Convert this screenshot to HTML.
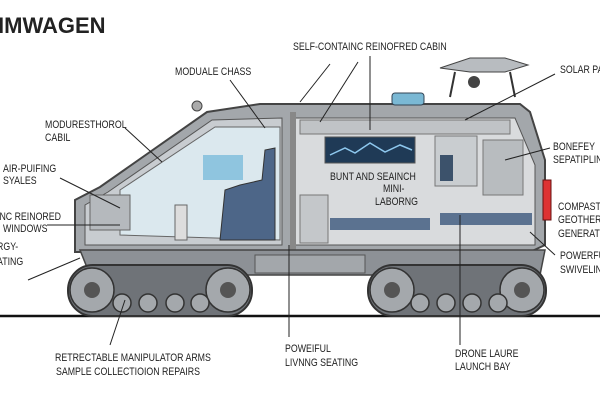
<!DOCTYPE html>
<html><head><meta charset="utf-8"><style>
html,body{margin:0;padding:0;background:#fff}
svg{display:block}
text{font-family:"Liberation Sans",sans-serif;fill:#222}
.l text{font-size:11px}
</style></head><body>
<svg width="600" height="400" viewBox="0 0 600 400">
<rect width="600" height="400" fill="#fff"/>
<text x="-2" y="33" font-size="22" font-weight="bold" fill="#111">IMWAGEN</text>
<line x1="0" y1="316" x2="600" y2="316" stroke="#111" stroke-width="2.5"/>
<path d="M75 250 L75 200 L100 187 L207 112 L260 104 L520 104 L530 112 L545 160 L545 245 L530 252 L75 252 Z" fill="#a3a7ab" stroke="#444" stroke-width="2"/>
<path d="M85 245 L85 205 L108 192 L212 120 L282 118 L282 245 Z" fill="#c8ccd0" stroke="#555"/>
<path d="M120 235 L120 190 L215 127 L280 127 L280 240 Z" fill="#dbe8ee" stroke="#666"/>
<path d="M295 118 L515 118 L535 165 L535 245 L295 245 Z" fill="#d9dbdd" stroke="#555"/>
<rect x="290" y="112" width="6" height="140" fill="#888"/>
<rect x="300" y="120" width="210" height="14" fill="#c0c3c6" stroke="#777"/>
<rect x="325" y="137" width="90" height="26" fill="#1f3a56" stroke="#555"/>
<path d="M330 155 L345 148 L355 153 L370 143 L385 152 L400 145 L412 150" stroke="#8ec8ee" fill="none" stroke-width="1.5"/>
<rect x="435" y="136" width="42" height="50" fill="#c9cdd0" stroke="#777"/>
<rect x="440" y="155" width="13" height="26" fill="#3c526b"/>
<rect x="483" y="140" width="40" height="55" fill="#b8bcbf" stroke="#777"/>
<rect x="330" y="218" width="100" height="12" fill="#5b7290"/>
<rect x="440" y="213" width="92" height="12" fill="#5b7290"/>
<rect x="300" y="195" width="28" height="48" fill="#c4c7ca" stroke="#777"/>
<rect x="203" y="155" width="40" height="25" fill="#6fb7d8" opacity=".7"/>
<rect x="90" y="195" width="40" height="35" fill="#b5b9bd" stroke="#666"/>
<path d="M220 240 L225 190 L240 185 L262 180 L265 150 L275 148 L275 240 Z" fill="#4d6688" stroke="#333"/>
<rect x="175" y="205" width="12" height="35" fill="#ddd" stroke="#666"/>
<rect x="392" y="93" width="32" height="12" rx="3" fill="#7ab8d4" stroke="#345"/>
<circle cx="197" cy="106" r="5" fill="#aaa" stroke="#444"/>
<path d="M440 68 L470 58 L505 58 L528 65 L505 72 L470 72 Z" fill="#b8bcc0" stroke="#444"/>
<path d="M455 72 L450 97 M510 72 L515 97" stroke="#333" stroke-width="2"/>
<circle cx="474" cy="82" r="6" fill="#444"/>
<rect x="543" y="180" width="8" height="40" fill="#d33" stroke="#611"/>
<path d="M80 250 L545 250 L540 275 L90 275 Z" fill="#8d9196" stroke="#444" stroke-width="1.5"/>
<rect x="255" y="255" width="110" height="18" fill="#a3a7ab" stroke="#555"/>
<rect x="68" y="265" width="184" height="51" rx="25" fill="#6f7378" stroke="#333" stroke-width="2"/>
<rect x="368" y="265" width="178" height="51" rx="25" fill="#6f7378" stroke="#333" stroke-width="2"/>
<g fill="#a4a8ac" stroke="#333" stroke-width="1.5">
<circle cx="92" cy="290" r="22"/><circle cx="228" cy="290" r="22"/>
<circle cx="392" cy="290" r="22"/><circle cx="522" cy="290" r="22"/>
<circle cx="122" cy="303" r="9"/><circle cx="148" cy="303" r="9"/><circle cx="175" cy="303" r="9"/><circle cx="200" cy="303" r="9"/>
<circle cx="420" cy="303" r="9"/><circle cx="446" cy="303" r="9"/><circle cx="472" cy="303" r="9"/><circle cx="498" cy="303" r="9"/>
</g>
<g fill="#555"><circle cx="92" cy="290" r="8"/><circle cx="228" cy="290" r="8"/><circle cx="392" cy="290" r="8"/><circle cx="522" cy="290" r="8"/></g>
<g stroke="#222" stroke-width="1">
<line x1="230" y1="80" x2="265" y2="128"/>
<line x1="330" y1="64" x2="300" y2="102"/>
<line x1="358" y1="62" x2="320" y2="122"/>
<line x1="370" y1="56" x2="370" y2="130"/>
<line x1="555" y1="74" x2="465" y2="120"/>
<line x1="550" y1="148" x2="505" y2="160"/>
<line x1="125" y1="128" x2="162" y2="162"/>
<line x1="60" y1="178" x2="120" y2="208"/>
<line x1="47" y1="225" x2="120" y2="225"/>
<line x1="28" y1="280" x2="80" y2="258"/>
<line x1="555" y1="255" x2="530" y2="232"/>
<line x1="110" y1="345" x2="125" y2="300"/>
<line x1="289" y1="337" x2="289" y2="245"/>
<line x1="460" y1="345" x2="460" y2="215"/>
</g>
<g class="l">
<g transform="translate(175,75) scale(0.8,1)"><text>MODUALE CHASS</text></g>
<g transform="translate(293,50) scale(0.8,1)"><text>SELF-CONTAINC REINOFRED CABIN</text></g>
<g transform="translate(560,73) scale(0.8,1)"><text>SOLAR PA</text></g>
<g transform="translate(45,128) scale(0.8,1)"><text>MODURESTHOROL</text></g>
<g transform="translate(45,141) scale(0.8,1)"><text>CABIL</text></g>
<g transform="translate(3,172) scale(0.8,1)"><text>AIR-PUIFING</text></g>
<g transform="translate(3,184) scale(0.8,1)"><text>SYALES</text></g>
<g transform="translate(-3,220) scale(0.8,1)"><text>INC REINORED</text></g>
<g transform="translate(3,232) scale(0.8,1)"><text>WINDOWS</text></g>
<g transform="translate(-3,250) scale(0.8,1)"><text>RGY-</text></g>
<g transform="translate(-3,265) scale(0.8,1)"><text>ATING</text></g>
<g transform="translate(330,180) scale(0.8,1)"><text>BUNT AND SEAINCH</text></g>
<g transform="translate(383,192) scale(0.8,1)"><text>MINI-</text></g>
<g transform="translate(375,205) scale(0.8,1)"><text>LABORNG</text></g>
<g transform="translate(553,150) scale(0.8,1)"><text>BONEFEY</text></g>
<g transform="translate(553,163) scale(0.8,1)"><text>SEPATIPLIN</text></g>
<g transform="translate(558,210) scale(0.8,1)"><text>COMPAST</text></g>
<g transform="translate(558,223) scale(0.8,1)"><text>GEOTHER</text></g>
<g transform="translate(558,237) scale(0.8,1)"><text>GENERAT</text></g>
<g transform="translate(560,259) scale(0.8,1)"><text>POWERFU</text></g>
<g transform="translate(560,273) scale(0.8,1)"><text>SWIVELIN</text></g>
<g transform="translate(285,352) scale(0.8,1)"><text>POWEIFUL</text></g>
<g transform="translate(285,366) scale(0.8,1)"><text>LIVNNG SEATING</text></g>
<g transform="translate(55,361) scale(0.8,1)"><text>RETRECTABLE MANIPULATOR ARMS</text></g>
<g transform="translate(56,375) scale(0.8,1)"><text>SAMPLE COLLECTIOION REPAIRS</text></g>
<g transform="translate(455,357) scale(0.8,1)"><text>DRONE LAURE</text></g>
<g transform="translate(455,370) scale(0.8,1)"><text>LAUNCH BAY</text></g>
</g>
</svg>
</body></html>
